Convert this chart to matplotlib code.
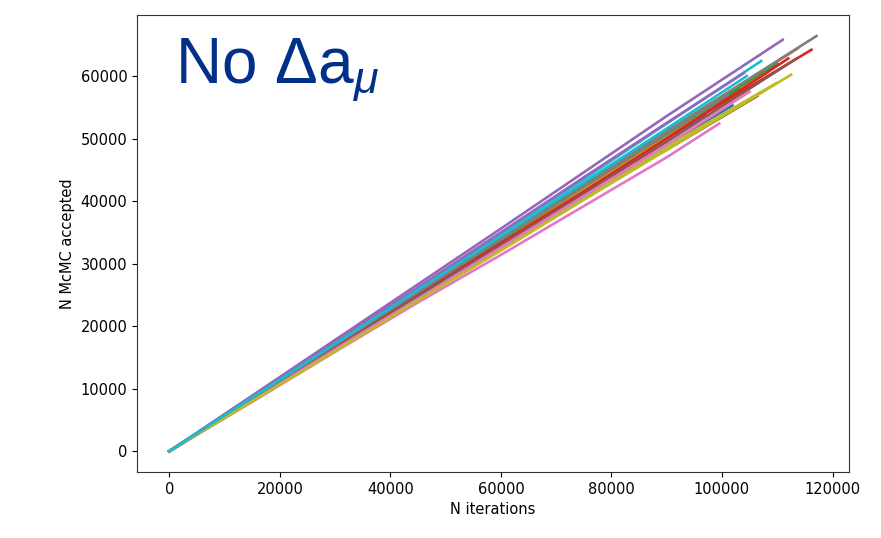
import matplotlib
matplotlib.use("Agg")
import matplotlib.pyplot as plt

# common sample points along N iterations (the last point of each run is its own end)
x_pts = [0, 15000, 30000, 45000, 60000, 75000, 90000]

# (end iteration, accepted counts at x_pts + end value) for each MCMC run
runs = [
    (101900, [0, 8300, 16500, 24600, 32300, 40600, 49000, 55300]),
    (113700, [0, 8200, 16700, 25300, 33900, 42500, 51000, 64400]),
    (110000, [0, 8600, 17200, 25600, 34100, 42600, 51000, 62000]),
    (116200, [0, 8000, 16100, 24300, 32800, 41600, 50300, 64200]),
    (111000, [0, 8900, 17800, 26700, 35600, 44600, 53600, 65800]),
    (106400, [0, 8300, 16600, 24800, 32700, 40600, 48200, 56800]),
    (99500,  [0, 7900, 15900, 23800, 31400, 39200, 47000, 52400]),
    (117100, [0, 8600, 17300, 25900, 34200, 42700, 51200, 66400]),
    (109900, [0, 8100, 16300, 24500, 32400, 40500, 48700, 58900]),
    (107100, [0, 8700, 17400, 26000, 34800, 43500, 52400, 62400]),
    (97000,  [0, 8400, 16800, 25100, 33400, 41700, 50000, 53800]),
    (108000, [0, 8400, 16900, 25200, 33600, 42000, 50400, 60500]),
    (103000, [0, 8500, 17000, 25300, 33800, 42300, 50700, 58000]),
    (112000, [0, 8300, 16700, 25000, 33300, 41500, 50000, 62800]),
    (104000, [0, 8800, 17500, 26200, 35000, 43800, 52500, 60500]),
    (113500, [0, 8200, 16500, 24800, 33000, 41200, 49500, 62800]),
    (105000, [0, 8100, 16300, 24400, 32600, 40800, 49000, 57500]),
    (101000, [0, 8500, 17000, 25400, 33900, 42300, 50800, 57000]),
    (112500, [0, 8000, 16000, 24100, 32100, 40200, 48200, 60200]),
    (104500, [0, 8600, 17200, 25800, 34400, 43000, 51600, 60000]),
]

plt.rcParams['mathtext.fontset'] = 'custom'
plt.rcParams['mathtext.rm'] = 'Liberation Sans'
plt.rcParams['mathtext.it'] = 'Liberation Sans:italic'

fig = plt.figure(figsize=(8.81, 5.38), dpi=100)
ax = fig.add_axes([0.1555, 0.1227, 0.808, 0.849])

for end_x, ys in runs:
    ax.plot(x_pts + [end_x], ys, lw=1.9)

ax.set_xlabel('N iterations', fontsize=10.5)
ax.set_ylabel('N McMC accepted', fontsize=10.5)
ax.tick_params(labelsize=10.5)
ax.set_xticks([0, 20000, 40000, 60000, 80000, 100000, 120000])
for s in ax.spines.values():
    s.set_color('#333333')

ax.text(0.053, 0.851, r'No Δa$_{\mu}$', transform=ax.transAxes,
        fontsize=46, color='#003087', family='Liberation Sans', va='baseline')

fig.savefig('out.png', dpi=100)
